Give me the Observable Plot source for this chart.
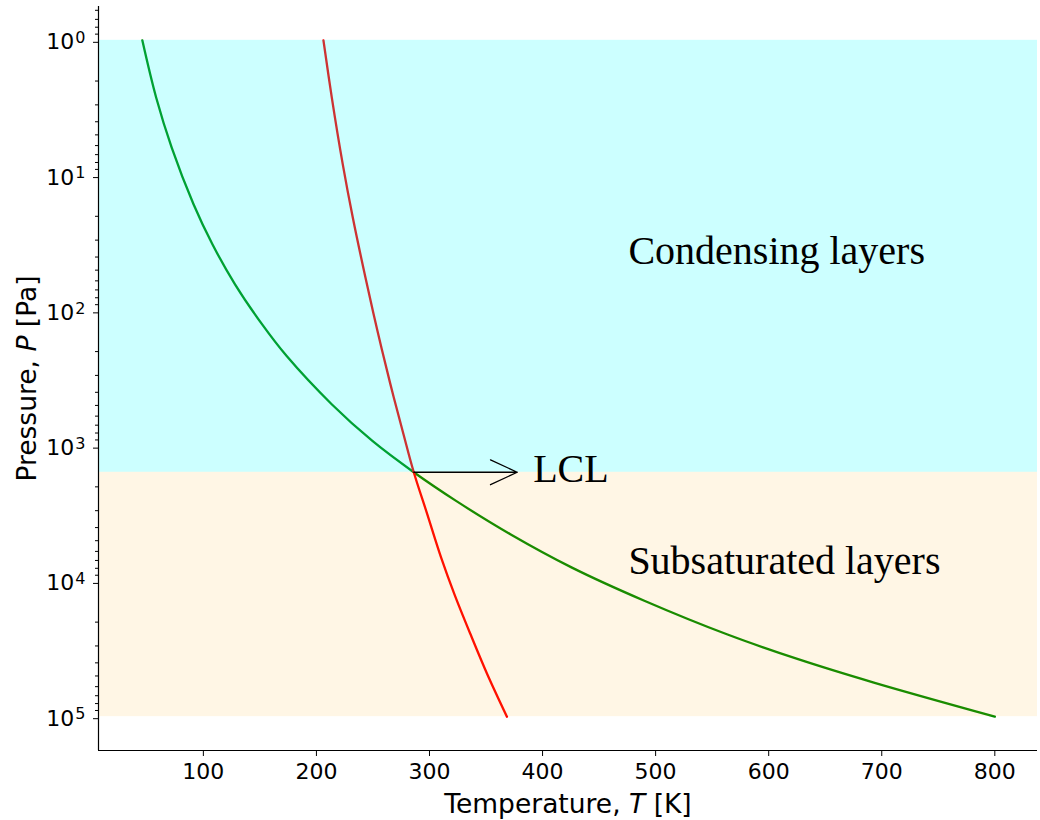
<!DOCTYPE html>
<html>
<head>
<meta charset="utf-8">
<script src="https://cdn.jsdelivr.net/npm/d3@7"></script>
<script src="https://cdn.jsdelivr.net/npm/@observablehq/plot@0.6"></script>
<style>
  body { margin: 0; background: #fff; }
  #chart svg { display: block; }
</style>
</head>
<body>
<div id="chart"></div>
<script>
// ---- Data ----
// Dry adiabat (green): temperature [K] and pressure [Pa]
const adiabatT = [46, 58.3, 72, 91.3, 108, 128, 152, 173.5, 213.5, 249.5, 286.1, 323.5, 371.5, 426, 490, 563, 626, 693, 800];
const adiabatP = [1, 2.66, 6.22, 16.3, 32.2, 63.6, 126, 215, 490, 916, 1560, 2540, 4480, 7910, 13900, 24600, 37600, 56000, 100000];

// Saturation vapour pressure curve (red)
const satT = [206.2, 213.6, 223.3, 232.2, 243.4, 254.0, 265.4, 277.0, 286.1, 298.0, 310.3, 322.0, 336.2, 351.1, 368.5];
const satP = [1, 2.65, 8.26, 20.5, 56.9, 141, 348, 817, 1560, 3180, 6670, 12400, 24500, 48500, 100000];

// Lifting condensation level
const lclT = 286.1;
const lclP = 1560;
const lclArrowTipT = 377.6;

// Shaded layers
const bandNames = ["Condensing layers", "Subsaturated layers"];
const bandTopP = [1, 1560];
const bandBottomP = [1560, 100000];

// Annotation texts and their anchor points (data coordinates)
const labelTexts = ["Condensing layers", "Subsaturated layers", "LCL"];
const labelT = [475.9, 475.9, 391.7];
const labelP = [44.9, 8790, 1849];

// Axes
const xTicks = [100, 200, 300, 400, 500, 600, 700, 800];
const yTicks = [1, 10, 100, 1000, 10000, 100000];
const yTickBase = ["10", "10", "10", "10", "10", "10"];
const yTickExponent = ["0", "1", "2", "3", "4", "5"];
const xLabel = "Temperature, T [K]";
const yLabel = "Pressure, P [Pa]";

// ---- Build tables ----
const adiabat = adiabatT.map((t, i) => ({T: t, P: adiabatP[i]}));
const sat = satT.map((t, i) => ({T: t, P: satP[i]}));
const bands = bandNames.map((n, i) => ({name: n, top: bandTopP[i], bottom: bandBottomP[i]}));
const labels = labelTexts.map((s, i) => ({text: s, T: labelT[i], P: labelP[i]}));
const yLab = new Map(yTicks.map((v, i) => [v, yTickBase[i] + "^" + yTickExponent[i]]));

const xDomain = [7.25, 837.75];
const yDomain = [Math.pow(10, -0.25), Math.pow(10, 5.25)];

// minor ticks of the log axis
const minorTicks = [];
for (let e = -1; e <= 5; e++) {
  for (let m = 2; m <= 9; m++) {
    const v = m * Math.pow(10, e);
    if (v >= yDomain[0] && v <= yDomain[1]) minorTicks.push(v);
  }
}

const plot = Plot.plot({
  width: 1040,
  height: 820,
  marginLeft: 98,
  marginRight: 3,
  marginTop: 6,
  marginBottom: 70,
  style: {fontFamily: "'DejaVu Sans', sans-serif", fontSize: "22px", color: "black", background: "white", overflow: "visible"},
  x: {domain: xDomain, label: null},
  y: {type: "log", domain: yDomain, reverse: true, label: null},
  marks: [
    Plot.line(adiabat, {x: "T", y: "P", stroke: "#008a00", strokeWidth: 2.3, curve: "catmull-rom"}),
    Plot.line(sat, {x: "T", y: "P", stroke: "red", strokeWidth: 2.3, curve: "catmull-rom"}),
    Plot.rect(bands.slice(0, 1), {y1: "top", y2: "bottom", fill: "cyan", fillOpacity: 0.2}),
    Plot.rect(bands.slice(1, 2), {y1: "top", y2: "bottom", fill: "orange", fillOpacity: 0.1}),
    Plot.arrow([{x1: lclT, x2: lclArrowTipT, y: lclP}], {
      x1: "x1", x2: "x2", y1: "y", y2: "y",
      stroke: "black", strokeWidth: 1.3, headAngle: 50, headLength: 34
    }),
    Plot.text(labels, {
      x: "T", y: "P", text: "text", textAnchor: "start", lineAnchor: "bottom",
      fontFamily: "'Liberation Serif', 'Times New Roman', serif", fontSize: 40, fill: "black"
    }),
    // axes
    Plot.axisX(xTicks, {anchor: "bottom", tickSize: 6, tickPadding: 7, fontSize: 22, label: null}),
    Plot.axisY(yTicks, {anchor: "left", tickSize: 5, tickPadding: 8, dy: 2, fontSize: 22, tickFormat: d => yLab.get(d), label: null}),
    Plot.axisY(minorTicks, {anchor: "left", tickSize: 3, tickFormat: () => "", label: null}),
    Plot.ruleY([yDomain[1]], {stroke: "black", strokeWidth: 1.2}),
    Plot.ruleX([xDomain[0]], {stroke: "black", strokeWidth: 1.2}),
    // axis titles
    Plot.text([xLabel], {text: d => d, frameAnchor: "bottom", dy: 62, lineAnchor: "bottom", fontSize: 26.5, fill: "black"}),
    Plot.text([yLabel], {text: d => d, frameAnchor: "left", textAnchor: "middle", dx: -63, rotate: -90, lineAnchor: "bottom", fontSize: 26.5, fill: "black"})
  ]
});

document.getElementById("chart").append(plot);

// italic variable symbols in axis titles, raised exponents in log tick labels
d3.select(plot).selectAll("text").each(function () {
  const t = this.textContent;
  const el = d3.select(this);
  let parts = null;
  if (t === xLabel) parts = ["Temperature, ", "T", " [K]"];
  else if (t === yLabel) parts = ["Pressure, ", "P", " [Pa]"];
  if (parts) {
    el.text(null);
    el.append("tspan").text(parts[0]);
    el.append("tspan").attr("font-style", "italic").text(parts[1]);
    el.append("tspan").text(parts[2]);
    return;
  }
  const m = /^(\d+)\^(\d+)$/.exec(t);
  if (m) {
    el.text(null);
    el.append("tspan").text(m[1]);
    el.append("tspan").attr("dx", "1").attr("dy", "-0.39em").attr("font-size", "16px").text(m[2]);
  }
});
</script>
</body>
</html>
